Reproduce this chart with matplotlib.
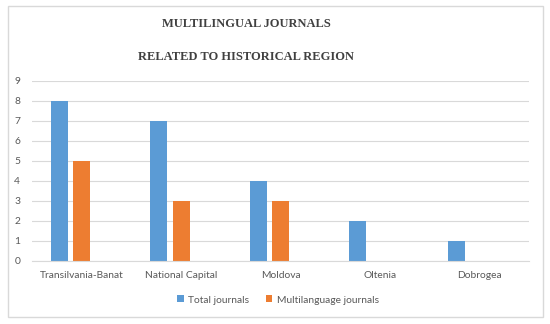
import numpy as np
import matplotlib.pyplot as plt
from matplotlib.patches import Rectangle

# Dữ liệu
regions = ['Transilvania-Banat', 'National Capital', 'Moldova', 'Oltenia', 'Dobrogea']
total_journals = [8, 7, 4, 2, 1]
multilang_journals = [5, 3, 3, 0, 0]

blue = '#5b9bd5'
orange = '#ed7d31'
text_gray = '#595959'

plt.rcParams['font.family'] = ['Lato', 'DejaVu Sans']

fig = plt.figure(figsize=(5.5, 3.24), dpi=100)
fig.patches.append(Rectangle((8/550, 1 - 317/324), 535/550, 311/324,
                             transform=fig.transFigure, fill=False,
                             edgecolor='#d9d9d9', linewidth=1))

ax = fig.add_axes([32/550, 1 - 261/324, 497/550, 180/324])

x = np.arange(len(regions))
w = 0.171
ax.bar(x - 0.226, total_journals, w, color=blue, label='Total journals')
ax.bar(x, multilang_journals, w, color=orange, label='Multilanguage journals')

ax.set_xlim(-0.5, len(regions) - 0.5)
ax.set_ylim(0, 9)
ax.set_yticks(range(10))
ax.set_xticks(x)
ax.set_xticklabels(regions)

ax.grid(axis='y', color='#d9d9d9', linewidth=0.8)
ax.set_axisbelow(True)
for s in ['top', 'right', 'left']:
    ax.spines[s].set_visible(False)
ax.spines['bottom'].set_color('#d9d9d9')
ax.tick_params(length=0, labelsize=7.4, labelcolor=text_gray)
ax.tick_params(axis='y', pad=8.5)
ax.tick_params(axis='x', pad=7.5)

# Tiêu đề
fig.text(246/550, 1 - 24/324, 'MULTILINGUAL JOURNALS', ha='center', va='center',
         family='Liberation Serif', fontweight='bold', fontsize=9, color='#404040')
fig.text(246/550, 1 - 57/324, 'RELATED TO HISTORICAL REGION', ha='center', va='center',
         family='Liberation Serif', fontweight='bold', fontsize=9, color='#404040')

fig.legend(loc='center', bbox_to_anchor=(278/550, 1 - 300/324), ncol=2, frameon=False,
           fontsize=7.4, labelcolor=text_gray, handlelength=0.65, handleheight=0.65,
           handletextpad=0.45, columnspacing=1.6)

fig.savefig('out.png', dpi=100)
